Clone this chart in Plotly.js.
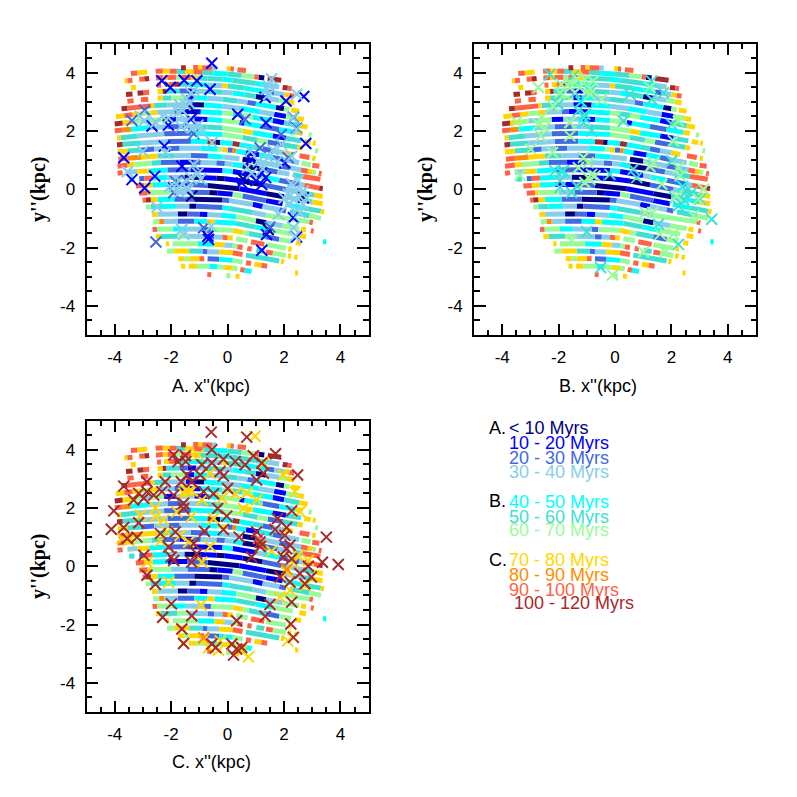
<!DOCTYPE html>
<html><head><meta charset="utf-8">
<script src="https://cdn.plot.ly/plotly-3.0.0.min.js"></script>
<style>html,body{margin:0;padding:0;background:#fff}</style></head>
<body><div id="chart" style="width:797px;height:797px"></div>
<script>
// Age classes: code letter, name, colour
const classCodes=["a","b","c","d","e","f","g","h","i","j","k"];
const classNames=["< 10 Myrs","10 - 20 Myrs","20 - 30 Myrs","30 - 40 Myrs","40 - 50 Myrs","50 - 60 Myrs","60 - 70 Myrs","70 - 80 Myrs","80 - 90 Myrs","90 - 100 Myrs","100 - 120 Myrs"];
const classColors=["#000080","#0000ff","#4169e1","#87ceeb","#00ffff","#40e0d0","#98fb98","#ffd700","#ff8c00","#ff6347","#a52a2a"];
// Background rows: run boundaries (x, y in kpc) and the class of every run ("_" = empty)
const row00x=[-1.65,-1.48,-1.22,-1.05,-.9,-.55,-.4,-.03,.1,.22,.35,.65];
const row00y=[4.17,4.17,4.18,4.18,4.17,4.16,4.16,4.14,4.13,4.12,4.1,4.07];
const row00c="k_jhjd_hj_j";
const row01x=[-3.43,-3.2,-2.85,-2.55,-2.3,-2.05,-1.8,-1.5,-1.2,-.9,-.5,0,.5,.95,1.1,1.3,1.42,1.9];
const row01y=[3.97,3.99,4.02,4.05,4.06,4.05,4.05,4.04,4.03,4.01,3.98,3.95,3.9,3.86,3.84,3.82,3.8,3.74];
const row01c="jh_jhjfhjfefgja_k";
const row02x=[-3.66,-3.55,-3.37,-3.13,-2.95,-2.78,-2.54,-2.30,-2.13,-1.83,-1.65,-1.30,-1.06,-.71,-.18,.18,1.0,1.42,1.83,1.95,2.13,2.27];
const row02y=[3.71,3.72,3.74,3.77,3.78,3.8,3.82,3.83,3.83,3.84,3.84,3.83,3.82,3.8,3.77,3.74,3.63,3.57,3.51,3.49,3.47,3.45];
const row02c="hj_jk_jhjgjhffefed_kj";
const row03x=[-3.43,-3.25,-2.5,-2.36,-2.25,-2.07,-1.89,-1.71,-1.42,-.71,-.18,0,.6,1.0,1.42,1.65,2.0,2.19,2.36];
const row03y=[3.48,3.5,3.57,3.58,3.59,3.59,3.6,3.6,3.6,3.58,3.55,3.54,3.47,3.4,3.34,3.3,3.25,3.22,3.19];
const row03c="h_j_hjkfedhfeecdhj";
const row04x=[-3.6,-3.37,-3.19,-2.98,-2.78,-2.48,-2.3,-2.18,-1.71,-1.42,-1.12,-.71,-.2,.18,.6,1.0,1.36,1.83,2.13,2.36];
const row04y=[3.25,3.27,3.29,3.31,3.33,3.35,3.35,3.36,3.37,3.37,3.37,3.35,3.33,3.3,3.25,3.18,3.12,3.05,3.0,2.96];
const row04c="k_kj_hkfcbdfdefadgh";
const row05x=[-3.55,-3.33,-3.07,-2.81,-2.48,-2.3,-2.0,-1.48,-1.18,-.71,-.18,.35,.7,1.0,1.71,2.0,2.19,2.25,2.54];
const row05y=[3.02,3.04,3.07,3.09,3.12,3.13,3.13,3.14,3.14,3.12,3.09,3.03,2.98,2.93,2.81,2.76,2.73,2.72,2.68];
const row05c="j_j_hfgbedfdceag_h";
const row06x=[-3.76,-3.55,-2.72,-2.6,-2.13,-1.48,-1.12,-.83,-.18,.47,1.12,1.65,2.07,2.47,2.7];
const row06y=[2.76,2.78,2.86,2.87,2.89,2.9,2.9,2.89,2.85,2.77,2.66,2.57,2.5,2.43,2.39];
const row06c="kjhfdbaededbgh";
const row07x=[-3.96,-3.66,-3.37,-3.07,-2.72,-2.48,-1.89,-1.65,-.95,-.18,.18,.53,.89,1.6,2.0,2.54,2.84];
const row07y=[2.49,2.52,2.56,2.59,2.62,2.64,2.66,2.67,2.66,2.62,2.59,2.54,2.47,2.36,2.28,2.18,2.13];
const row07c="hjhghdcbegfgebfh";
const row08x=[-4,-3.72,-3.37,-3.07,-2.72,-2.25,-1.83,-1.18,-.71,-.18,.42,.6,1.24,1.83,2.42,2.66,2.87,2.98];
const row08y=[2.24,2.27,2.31,2.34,2.36,2.39,2.4,2.41,2.39,2.36,2.29,2.26,2.15,2.05,1.95,1.92,1.87,1.85];
const row08c="khgdgbdbegbeceh_g";
const row09x=[-4,-3.72,-3.43,-2.8,-2.13,-1.53,-.9,-.18,.53,.89,1.6,2.07,2.6,2.72,2.95,3.02,3.12];
const row09y=[2.01,2.03,2.06,2.11,2.14,2.15,2.14,2.1,2.0,1.94,1.83,1.75,1.66,1.64,1.6,1.59,1.57];
const row09c="jiedcdfghebf_h_h";
const row10x=[-3.92,-3.78,-3.19,-2.25,-1.30,-.18,.53,1.06,1.42,1.95,2.48,2.66,3.1,3.2];
const row10y=[1.76,1.77,1.83,1.9,1.92,1.88,1.78,1.68,1.62,1.53,1.44,1.41,1.33,1.31];
const row10c="hfdcegfgcfh_g";
const row11x=[-3.92,-3.72,-3.07,-2.13,-1.3,-.71,-.42,-.26,.18,.42,.89,1.24,1.6,2.0,2.31,2.55,2.9,3.0,3.12];
const row11y=[1.52,1.54,1.59,1.64,1.65,1.63,1.61,1.6,1.57,1.53,1.45,1.39,1.32,1.25,1.19,1.15,1.09,1.07,1.05];
const row11c="kfdcekaekefcdh_j_h";
const row12x=[-3.9,-3.55,-3.07,-2.6,-2.1,-1.7,-.95,-.36,-.18,0,.18,.3,.65,1.12,1.6,1.95,2.54,2.62,2.95,3.0,3.25];
const row12y=[1.28,1.31,1.35,1.38,1.4,1.41,1.41,1.38,1.36,1.35,1.34,1.31,1.25,1.18,1.09,1.02,.91,.9,.83,.82,.79];
const row12c="hfcdcdeghciebecd_g_j";
const row13x=[-3.87,-3.55,-3.07,-2.48,-1.9,-1.3,-.7,-.18,.42,.53,1.0,1.83,2.2,2.6,2.84,3.01,3.13,3.23,3.33];
const row13y=[1.03,1.06,1.1,1.14,1.15,1.16,1.14,1.11,1.05,1.03,.96,.8,.74,.66,.62,.59,.57,.55,.53];
const row13c="jihfdced_adcdjhg_j";
const row14x=[-3.9,-3.55,-3.3,-2.7,-2.36,-1.7,-1.2,-.95,-.4,-.1,.18,.53,1.12,1.77,2.19,2.31,2.66,3.29];
const row14y=[.79,.83,.85,.89,.92,.93,.93,.92,.9,.88,.86,.8,.71,.59,.52,.5,.44,.34];
const row14c="jhgfcbcdcdeacd_fj";
const row15x=[-3.9,-3.72,-3.55,-3.2,-2.78,-2.13,-1.3,-.18,.18,1.0,1.3,1.83,2.54,2.72,3.25,3.37];
const row15y=[.55,.57,.58,.61,.63,.66,.67,.64,.61,.47,.41,.31,.17,.14,.04,.02];
const row15c="j_dhecbebdecdjk";
const row16x=[-3.49,-3.3,-3.13,-2.95,-2.66,-2.13,-1.53,-.95,-.4,-.1,.53,1.24,2.07,2.72,3.07,3.37];
const row16y=[.34,.35,.36,.37,.39,.4,.41,.4,.38,.36,.28,.15,-.01,-.13,-.2,-.25];
const row16c="f_cjedababacdfh";
const row17x=[-3.25,-2.95,-2.66,-2.13,-1.42,-.71,.42,1.36,2.0,2.72,3.0,3.37];
const row17y=[.11,.13,.15,.16,.16,.13,.02,-.15,-.26,-.39,-.44,-.5];
const row17c="jhebcabadfh";
const row18x=[-3.13,-2.84,-2.72,-2,-1.42,-.65,-.36,.18,.53,1.36,1.95,2.05,2.66,3.3,3.42];
const row18y=[-.14,-.12,-.11,-.1,-.1,-.11,-.13,-.17,-.23,-.39,-.5,-.52,-.64,-.75,-.78];
const row18c="jhgdcabgcb_efh";
const row19x=[-3.01,-2.9,-2.72,-2.48,-1.89,-1.18,-.18,.06,.89,1.24,1.83,2.07,2.2,2.9,3.31];
const row19y=[-.38,-.37,-.36,-.35,-.34,-.34,-.37,-.39,-.52,-.59,-.7,-.75,-.77,-.91,-1.0];
const row19c="jkhecacdbdc_fg";
const row20x=[-2.9,-2.72,-2.36,-1.83,-1.36,-1.12,-.18,.06,.89,1.36,2.9,3.02];
const row20y=[-.61,-.6,-.59,-.58,-.58,-.58,-.63,-.66,-.8,-.89,-1.12,-1.15];
const row20c="gfedacefdgj";
const row21x=[-2.68,-2.48,-1.77,-1.42,-1.0,-.71,-.23,.3,1.0,1.36,1.95,2.54,2.6,2.78,2.95,3.05];
const row21y=[-.87,-.86,-.85,-.85,-.86,-.87,-.89,-.94,-1.08,-1.15,-1.25,-1.35,-1.36,-1.39,-1.42,-1.44];
const row21c="hdacbdegadg_h_j";
const row22x=[-2.64,-2.42,-2.25,-1.77,-1.18,-.71,-.47,.3,1.0,1.6,2.31,2.54,2.78];
const row22y=[-1.12,-1.11,-1.11,-1.1,-1.1,-1.11,-1.12,-1.17,-1.3,-1.41,-1.54,-1.59,-1.63];
const row22c="gidcehefeg_h";
const row23x=[-2.66,-2.5,-1.95,-1.48,-.83,-.59,.18,.53,.75,1.36,1.83,2.25,2.42,2.6];
const row23y=[-1.38,-1.37,-1.36,-1.36,-1.37,-1.38,-1.41,-1.48,-1.52,-1.63,-1.72,-1.79,-1.83,-1.86];
const row23c="jgedcghgfcg_h";
const row24x=[-2.54,-2.36,-1.77,-1.42,-.71,-.47,-.18,0,.18,.3,.71,.83,1.3,1.36,2.07,2.15,2.27];
const row24y=[-1.63,-1.62,-1.61,-1.61,-1.63,-1.64,-1.65,-1.66,-1.67,-1.7,-1.77,-1.8,-1.89,-1.9,-2.02,-2.04,-2.06];
const row24c="hfgdcdjh_g_j_g_h";
const row25x=[-2.19,-2.07,-1.95,-1.06,-.47,-.12,.18,.35,.53,.7,.85,1.02,1.3,1.36,1.6,2.07,2.13,2.25,2.36,2.48];
const row25y=[-1.87,-1.87,-1.87,-1.87,-1.89,-1.91,-1.93,-1.97,-2.0,-2.03,-2.06,-2.09,-2.14,-2.15,-2.19,-2.27,-2.28,-2.3,-2.32,-2.34];
const row25c="h_gehdgj_j_f_jg_h_h";
const row26x=[-2.15,-1.89,-1.36,-.89,-.71,-.3,.18,.53,.65,1.83,1.89,2.0];
const row26y=[-2.13,-2.12,-2.12,-2.13,-2.14,-2.15,-2.18,-2.24,-2.26,-2.46,-2.47,-2.49];
const row26c="ghfcdhj_f_h";
const row27x=[-1.75,-1.54,-1.36,-1.0,-.83,-.71,-.3,.18,.53,.65,.83,.95,1.2,1.4];
const row27y=[-2.38,-2.38,-2.38,-2.38,-2.38,-2.38,-2.4,-2.44,-2.5,-2.52,-2.55,-2.57,-2.61,-2.64];
const row27c="hghj_ceg_j_hj";
const row28x=[-1.65,-1.5,-1.38,-1.12,-.65,-.36,-.12,.18,.35,.45,.6,.85];
const row28y=[-2.64,-2.64,-2.64,-2.64,-2.64,-2.66,-2.68,-2.7,-2.73,-2.75,-2.78,-2.82];
const row28c="h_hgeghg_je";
const row29x=[-.72,-.58,-.05,.1,.28,.42];
const row29y=[-2.92,-2.93,-2.96,-2.97,-2.98,-2.99];
const row29c="j_g_h";
const row30x=[3.38,3.5,2.39,2.5];
const row30y=[-1.8,-1.8,-2.87,-2.87];
const row30c="e_h";
const bgX=[row00x,row01x,row02x,row03x,row04x,row05x,row06x,row07x,row08x,row09x,row10x,row11x,row12x,row13x,row14x,row15x,row16x,row17x,row18x,row19x,row20x,row21x,row22x,row23x,row24x,row25x,row26x,row27x,row28x,row29x,row30x];
const bgY=[row00y,row01y,row02y,row03y,row04y,row05y,row06y,row07y,row08y,row09y,row10y,row11y,row12y,row13y,row14y,row15y,row16y,row17y,row18y,row19y,row20y,row21y,row22y,row23y,row24y,row25y,row26y,row27y,row28y,row29y,row30y];
const bgC=[row00c,row01c,row02c,row03c,row04c,row05c,row06c,row07c,row08c,row09c,row10c,row11c,row12c,row13c,row14c,row15c,row16c,row17c,row18c,row19c,row20c,row21c,row22c,row23c,row24c,row25c,row26c,row27c,row28c,row29c,row30c];

// Panel A crosses
const navyA=[[-1.27,-.23],[1.44,-1.38],[2.68,-.29],[-1.3,2.75],[.55,.35]];
const blueA=[[-.56,4.32],[-2.33,3.72],[-1.54,3.74],[-2.03,3.49],[-.62,3.43],[-1.09,3.72],[-2.68,2.17],[-2.24,1.48],[-3.68,1.08],[-3.39,.33],[-2.94,.04],[-2.58,.45],[-1.62,.79],[2.7,3.18],[2.07,3.03],[1.33,3.15],[.36,2.57],[1.36,2.28],[2.77,1.57],[.83,1.02],[2.03,.9],[1.21,.56],[.68,.39],[.5,.22],[1.21,.16],[-.68,-1.72],[-.7,-1.61],[1.21,-2.09],[1.38,-1.55],[2.44,-1.64],[2.33,-.98],[-1.3,2.4],[-2.1,2.2],[1.0,.3],[1.35,.4]];
const royalA=[[-3.39,2.36],[-2.94,2.71],[-1.85,.27],[1.15,1.42],[2.44,2.09],[1.9,1.88],[2.15,1.08],[.62,2.4],[2.33,2.46],[-2.54,-1.81],[-1.91,-.12],[-.85,-1.32],[-1.45,.3],[1.5,-1.3],[-1.2,1.9]];
const skyA=[[-1.7,2.9],[-1.6,2.7],[-1.5,2.9],[-1.45,3.1],[-1.3,3.3],[-1.2,3.4],[-1.35,2.95],[-1.75,2.65],[-1.5,2.3],[-1.65,2.15],[-1.25,2.1],[-1.05,2.2],[-.9,1.95],[-.55,1.6],[-2.3,2.5],[-2.1,2.45],[-3.1,2.5],[-2.95,2.35],[-2.55,2.3],[-3,1.3],[-2.2,1.25],[-3.55,.6],[-1.2,.85],[-1.05,.55],[-.95,.35],[-1.3,.4],[-1.6,.2],[-1.7,.05],[-1.9,.1],[-1.45,.05],[1.56,3.78],[1.45,3.55],[1.38,3.43],[1.45,3.25],[2.45,3.26],[2.44,2.05],[2.3,2.45],[1.91,1.54],[2.27,1.13],[.8,1.31],[1.44,1.08],[1.09,.96],[1.6,1.35],[1.75,.95],[1.25,.7],[.7,.75],[.85,.55],[2.15,-.17],[2.39,-.06],[2.68,-.06],[2.68,-.52],[2.15,-.52],[1.8,-.86],[2.56,-.8],[2.33,-1.32],[2.39,-1.61],[2,-.3],[2.35,-.35],[2.55,-.25],[2.25,.2],[2.5,.3],[2.8,-.3],[2.45,-.7],[-2.5,-.61],[-1.62,-1.38],[-1.56,-1.55],[-.58,-1.27],[-2.05,.1],[-1.7,-.1],[-1.4,-.02]];
// Panel B crosses
const cyanB=[[-1.2,3.0],[-1.9,.6],[2.6,-.3],[2.4,.1],[-1.1,2.45]];
const turqB=[[-2.31,3.94],[-1.48,3.89],[1.3,3.71],[-1.89,3.26],[-1.42,3.31],[-.89,3.37],[.53,3.26],[-2.01,2.91],[-1.3,2.69],[-1.12,2.29],[.3,2.34],[2.01,2.23],[-.83,2],[-2.13,.63],[-1.83,.63],[-1.95,.29],[-1.36,.11],[-1.95,.06],[-1.54,-.11],[.65,.69],[.77,.4],[-.18,.51],[2.01,.97],[2.31,.57],[2.54,-.06],[2.25,-.57],[2.72,-.11],[3.43,-1.03],[1.54,-1.2],[-1,-1.46],[-.51,-2.69],[2.25,-1.89],[1.72,3.31],[1.3,3.09],[-1.07,2.57],[-1.6,2.29],[2.13,-.29],[2.43,-.35],[3.02,-.34]];
const greenB=[[-2.72,3.49],[-1.6,3.66],[-1.07,3.77],[-.77,3.71],[-1.6,3.49],[-.89,3.43],[-.89,3.26],[-.47,3.09],[-2.19,2.86],[-2.6,2.46],[-2.72,2.23],[-3.49,2.32],[-2.49,2.11],[-2.63,1.83],[-1.6,2.29],[-1.6,1.83],[-2.98,1.37],[-2.21,1.26],[-1.12,1.09],[-1.3,.74],[-.95,.91],[-3.37,.48],[-.83,.51],[-.89,.34],[-1.07,.23],[-.71,.46],[-.95,.4],[1.24,.78],[1.36,.91],[2.25,.74],[2.31,.46],[1.66,.17],[2.19,-.23],[2.96,-.34],[3.14,0],[2.78,-.91],[1.07,-.8],[1.34,-.8],[1.6,-1.54],[2.07,-1.54],[1.01,-2.15],[1.78,-2.15],[-1.54,-1.77],[-.09,-2.94],[2.07,1.66],[2.25,2.34],[1.24,3.49],[-1.95,3.31],[-1.25,3.49],[-1.9,3.6],[-1.35,3.8]];
// Panel C crosses
const goldC=[[.97,4.46],[-1.03,3.82],[1.27,3.54],[-.62,3.19],[1.97,3.13],[2.39,2.56],[-1.5,2.62],[-1.38,2.56],[-1.27,2.59],[-1.56,2.5],[-.2,2.33],[-.91,2.27],[.27,2.48],[.68,2.52],[1.03,2.27],[.56,1.98],[2.56,1.87],[-3.09,1.75],[-2.56,1.7],[-2.27,1.6],[-1.29,1.7],[-1.8,1.87],[-.5,1.64],[-2.56,2],[-3.74,.95],[-3.5,.89],[-2.15,1.18],[-1.68,1.06],[-2.38,.87],[-1.38,.83],[-.62,.68],[1.56,.52],[2.5,.38],[-2.86,.14],[-.91,.14],[2.09,-.2],[2.33,.14],[2.86,.2],[-2.09,-.55],[1.85,-1.06],[2.21,-.83],[2.74,-.66],[-.94,-1.33],[2.13,-2.56],[-.85,-2.5],[-.67,-2.79],[-.26,-2.56],[-.32,-2.88],[.74,-3.11],[.5,-2.9]];
const orangeC=[[-.85,-2.45],[1.2,.7],[2.1,-.1]];
const tomatoC=[[1.1,.95]];
const brownC=[[-.58,4.6],[.68,4.43],[-1.91,3.82],[-1.5,3.79],[-1.76,3.59],[-1.48,3.59],[-.56,4],[-.15,3.67],[.27,3.59],[.62,3.48],[.91,3.79],[1.7,3.86],[1.21,3.54],[1.27,3.19],[-.91,3.48],[-.56,3.54],[-.27,3.25],[-.15,3.1],[-.97,3.13],[-1.44,3.13],[-1.64,2.9],[-1.27,2.9],[-2.21,2.9],[-2.86,2.9],[-3.68,2.75],[1.03,2.96],[2.48,3.13],[0,2.67],[-.85,2.56],[-.5,2.49],[-1.91,2.44],[-2.33,2.56],[-2.62,2.44],[-2.86,2.56],[-3.15,2.5],[-3.33,2.27],[-2.97,2.33],[-1.56,2.16],[-1.56,1.98],[-4.03,1.9],[-.35,1.98],[-.03,1.72],[2.27,1.9],[1.77,1.64],[-3.15,1.49],[-3.68,1.33],[-4.12,1.27],[-.15,1.26],[-.82,1.2],[-1.85,1.18],[-2.38,1.12],[1.68,1.26],[2.09,1.33],[1.03,1.18],[-3.56,.95],[-3.21,1],[.41,1],[3.5,1],[2.03,1.06],[1.15,.83],[1.15,.68],[2.21,.72],[2.09,.6],[-1.2,.78],[-2.09,.66],[-2,.32],[-1.91,.2],[-1.09,.43],[-1.27,.14],[-2.97,.38],[.85,.32],[1.97,.32],[2.27,.26],[3.36,.14],[3.92,.06],[-2.86,-.31],[-2.56,-.62],[1.86,-.37],[2.21,-.54],[2.56,-.25],[2.86,0],[2.97,-.37],[2.74,-.6],[2.27,-1.23],[1.5,-1.31],[-1.99,-1.29],[-1.27,-1.7],[-2.3,-1.75],[.32,-1.87],[1.33,-1.72],[2.24,-1.98],[-1.62,-2.15],[2.33,-2.44],[-1.56,-2.65],[-.56,-2.67],[-.42,-2.79],[.15,-2.67],[.5,-2.79],[.21,-3.05],[.32,-2.84]];

const W=797;
const data=[];
function addBackground(xa,ya){
  classCodes.forEach((code,k)=>{
    const xs=[],ys=[];
    bgC.forEach((str,r)=>{
      for(let i=0;i<str.length;i++){
        if(str[i]===code){xs.push(bgX[r][i],bgX[r][i+1],null);ys.push(bgY[r][i],bgY[r][i+1],null);}
      }
    });
    data.push({type:"scatter",mode:"lines",x:xs,y:ys,xaxis:xa,yaxis:ya,hoverinfo:"skip",showlegend:false,
      line:{color:classColors[k],width:5}});
  });
}
function addCrosses(points,k,xa,ya){
  data.push({type:"scatter",mode:"markers",x:points.map(p=>p[0]),y:points.map(p=>p[1]),xaxis:xa,yaxis:ya,
    name:classNames[k],showlegend:false,
    marker:{symbol:"x-thin",size:11,color:classColors[k],line:{color:classColors[k],width:2}}});
}
addBackground("x","y");
addCrosses(navyA,0,"x","y");addCrosses(blueA,1,"x","y");addCrosses(royalA,2,"x","y");addCrosses(skyA,3,"x","y");
addBackground("x2","y2");
addCrosses(cyanB,4,"x2","y2");addCrosses(turqB,5,"x2","y2");addCrosses(greenB,6,"x2","y2");
addBackground("x3","y3");
addCrosses(goldC,7,"x3","y3");addCrosses(orangeC,8,"x3","y3");addCrosses(tomatoC,9,"x3","y3");addCrosses(brownC,10,"x3","y3");
// empty traces that attach the overlay axes carrying the half-unit ticks
[["x4","y4"],["x5","y5"],["x6","y6"]].forEach(p=>data.push({type:"scatter",mode:"markers",x:[],y:[],xaxis:p[0],yaxis:p[1],showlegend:false,hoverinfo:"skip"}));

function axisBase(){
  return {range:[-5,5],tickmode:"linear",tick0:0,dtick:2,labelalias:{"\u22124":"-4","\u22122":"-2"},ticks:"inside",ticklen:11.5,tickwidth:2,tickcolor:"#000",
    showline:true,linewidth:2,linecolor:"#000",mirror:"allticks",showgrid:false,zeroline:false,ticklabelstandoff:6,
    tickfont:{family:"Liberation Sans",size:17,color:"#000"}};
}
function minorAxis(domain,anchor,over){
  return {range:[-5,5],domain:domain,anchor:anchor,overlaying:over,tickmode:"linear",tick0:0,dtick:.5,ticks:"inside",ticklen:5.5,tickwidth:2,tickcolor:"#000",
    showticklabels:false,showline:true,linewidth:2,linecolor:"#000",mirror:"allticks",showgrid:false,zeroline:false};
}
function xAxis(l,r,anchor){
  return Object.assign(axisBase(),{domain:[l/W,r/W],anchor:anchor});
}
function yAxis(t,b,anchor){
  return Object.assign(axisBase(),{domain:[1-b/W,1-t/W],anchor:anchor,
    title:{text:"y''(kpc)",font:{family:"Liberation Serif",size:20,color:"#000",weight:"bold"},standoff:9}});
}
const legendLines=[
 {t:"A.",x:488,y:428,c:"#000"},{t:classNames[0],x:508,y:428,c:classColors[0]},
 {t:classNames[1],x:508,y:443,c:classColors[1]},{t:classNames[2],x:508,y:458,c:classColors[2]},{t:classNames[3],x:508,y:472,c:classColors[3]},
 {t:"B.",x:488,y:501,c:"#000"},{t:classNames[4],x:508,y:502,c:classColors[4]},
 {t:classNames[5],x:508,y:517,c:classColors[5]},{t:classNames[6],x:508,y:530,c:classColors[6]},
 {t:"C.",x:488,y:560,c:"#000"},{t:classNames[7],x:508,y:560,c:classColors[7]},
 {t:classNames[8],x:508,y:575,c:classColors[8]},{t:classNames[9],x:508,y:590,c:classColors[9]},{t:classNames[10],x:513,y:603,c:classColors[10]},
 {t:"A. x''(kpc)",x:171,y:386,c:"#000"},{t:"B. x''(kpc)",x:558,y:386,c:"#000"},{t:"C. x''(kpc)",x:171,y:762,c:"#000"}];
const domA=[86.5/W,368.7/W],domB=[474/W,756/W],domTop=[1-335/W,1-43.5/W],domBot=[1-712/W,1-420.5/W];
const layout={width:W,height:W,autosize:false,margin:{l:0,r:0,t:0,b:0},paper_bgcolor:"#fff",plot_bgcolor:"#fff",showlegend:false,
  xaxis:xAxis(86.5,368.7,"y"),yaxis:yAxis(43.5,335,"x"),
  xaxis2:xAxis(474,756,"y2"),yaxis2:yAxis(43.5,335,"x2"),
  xaxis3:xAxis(86.5,368.7,"y3"),yaxis3:yAxis(420.5,712,"x3"),
  xaxis4:minorAxis(domA,"y4","x"),yaxis4:minorAxis(domTop,"x4","y"),
  xaxis5:minorAxis(domB,"y5","x2"),yaxis5:minorAxis(domTop,"x5","y2"),
  xaxis6:minorAxis(domA,"y6","x3"),yaxis6:minorAxis(domBot,"x6","y3"),
  annotations:legendLines.map(l=>({text:l.t,xref:"paper",yref:"paper",x:l.x/W,y:1-l.y/W,xanchor:"left",yanchor:"middle",showarrow:false,borderpad:0,
    font:{family:"Liberation Sans",size:18,color:l.c}}))};
Plotly.newPlot("chart",data,layout,{displayModeBar:false,staticPlot:true});
</script></body></html>
